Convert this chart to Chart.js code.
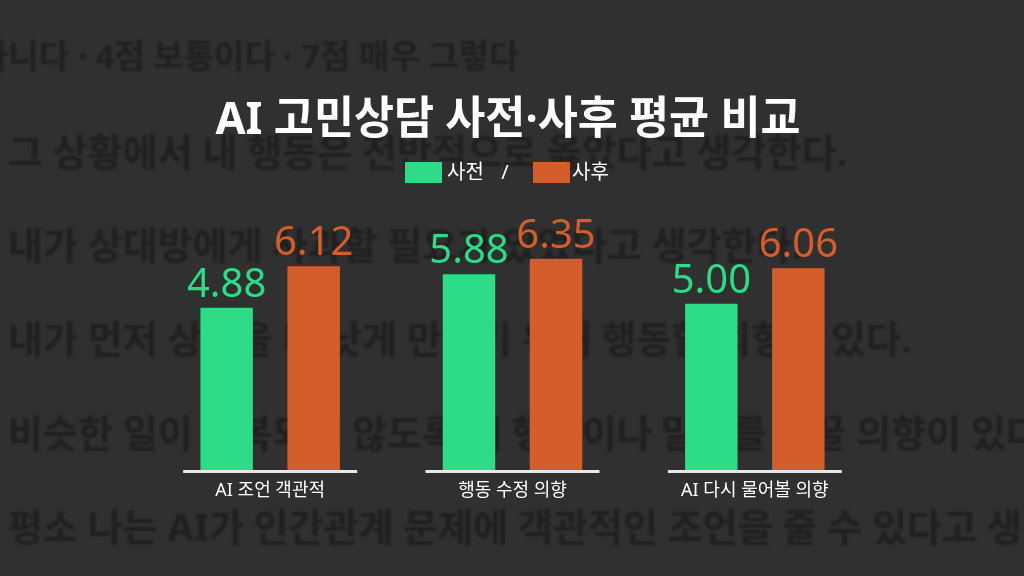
<!DOCTYPE html>
<html>
<head>
<meta charset="utf-8">
<script src="https://cdn.jsdelivr.net/npm/chart.js@4"></script>
<style>
  html, body { margin: 0; padding: 0; background: #303030; overflow: hidden; }
  #wrap { position: relative; width: 1024px; height: 576px; overflow: hidden; }
  #bg p {
    position: absolute; left: 8px; margin: 0; white-space: nowrap;
    font: bold 38px "Noto Sans", "Noto Sans CJK KR", sans-serif; line-height: 1;
    color: #202020; filter: blur(1px);
  }
  #chart { position: absolute; left: 0; top: 0; }
</style>
</head>
<body>
<div id="wrap">
  <div id="bg">
    <p style="top:39px; left:-22px; font-size:33px">아니다 · 4점 보통이다 · 7점 매우 그렇다</p>
    <p style="top:132px">그 상황에서 내 행동은 전반적으로 옳았다고 생각한다.</p>
    <p style="top:225px">내가 상대방에게 사과할 필요가 있었다고 생각한다.</p>
    <p style="top:319px">내가 먼저 상황을 더 낫게 만들기 위해 행동할 의향이 있다.</p>
    <p style="top:413px">비슷한 일이 반복되지 않도록 내 행동이나 말투를 바꿀 의향이 있다.</p>
    <p style="top:507px">평소 나는 AI가 인간관계 문제에 객관적인 조언을 줄 수 있다고 생각한다.</p>
  </div>
  <canvas id="chart" width="1024" height="576"></canvas>
</div>
<script>
var categories = ['AI 조언 객관적', '행동 수정 의향', 'AI 다시 물어볼 의향'];
var before = [4.88, 5.88, 5.00];
var after = [6.12, 6.35, 6.06];
var seriesNames = ['사전', '사후'];
var title = 'AI 고민상담 사전·사후 평균 비교';

var GREEN = '#2edb86';
var ORANGE = '#d45e2b';
var CAT_PCT = 0.718;
var FONT = '"Noto Sans", "Noto Sans CJK KR"';

// title + legend with the "/" in between
var header = {
  id: 'header',
  afterDraw: function(chart) {
    var ctx = chart.ctx;
    ctx.save();
    ctx.fillStyle = '#ffffff';
    ctx.textBaseline = 'middle';
    ctx.font = 'bold 45px ' + FONT;
    // the title is set a little condensed
    var w = ctx.measureText(title).width;
    var sx = 585 / w;
    ctx.save();
    ctx.translate(508, 121);
    ctx.scale(sx, 1);
    ctx.textAlign = 'center';
    ctx.fillText(title, 0, 0);
    ctx.restore();

    ctx.font = '20px ' + FONT;
    ctx.textAlign = 'left';
    ctx.fillStyle = GREEN;
    ctx.fillRect(405, 162, 37, 21);
    ctx.fillStyle = '#ffffff';
    ctx.fillText(seriesNames[0], 447, 173);
    ctx.textAlign = 'center';
    ctx.fillText('/', 505, 173);
    ctx.textAlign = 'left';
    ctx.fillStyle = ORANGE;
    ctx.fillRect(533, 162, 37, 21);
    ctx.fillStyle = '#ffffff';
    ctx.fillText(seriesNames[1], 572, 173);
    ctx.restore();
  }
};

// short white base line under each group, and the values above bars
var marks = {
  id: 'marks',
  afterDatasetsDraw: function(chart) {
    var ctx = chart.ctx;
    var x = chart.scales.x;
    var half = (x.width / categories.length) * CAT_PCT / 2;
    ctx.save();
    ctx.strokeStyle = '#e8e8e8';
    ctx.lineWidth = 3;
    categories.forEach(function(c, i) {
      var cx = x.getPixelForValue(i);
      ctx.beginPath();
      ctx.moveTo(cx - half, chart.chartArea.bottom + 1);
      ctx.lineTo(cx + half, chart.chartArea.bottom + 1);
      ctx.stroke();
    });
    ctx.font = '40px "Noto Sans"';
    ctx.textAlign = 'center';
    ctx.textBaseline = 'alphabetic';
    chart.data.datasets.forEach(function(ds, d) {
      ctx.fillStyle = ds.backgroundColor;
      chart.getDatasetMeta(d).data.forEach(function(bar, i) {
        ctx.fillText(ds.data[i].toFixed(2), bar.x, bar.y - 11);
      });
    });
    ctx.restore();
  }
};

var ctx = document.getElementById('chart').getContext('2d');
var chart = new Chart(ctx, {
  type: 'bar',
  data: {
    labels: categories,
    datasets: [
      { label: seriesNames[0], data: before, backgroundColor: GREEN },
      { label: seriesNames[1], data: after, backgroundColor: ORANGE }
    ]
  },
  options: {
    responsive: false,
    animation: false,
    categoryPercentage: CAT_PCT,
    barPercentage: 0.603,
    layout: { padding: { left: 149, right: 148, top: 237, bottom: 64 } },
    plugins: {
      legend: { display: false },
      title: { display: false },
      tooltip: { enabled: false }
    },
    scales: {
      x: {
        grid: { display: false, drawTicks: false },
        border: { display: false },
        ticks: { color: '#ffffff', padding: 10, font: { size: 18, family: FONT } }
      },
      y: { display: false, min: 0, max: 7 }
    }
  },
  plugins: [marks, header]
});
</script>
</body>
</html>
